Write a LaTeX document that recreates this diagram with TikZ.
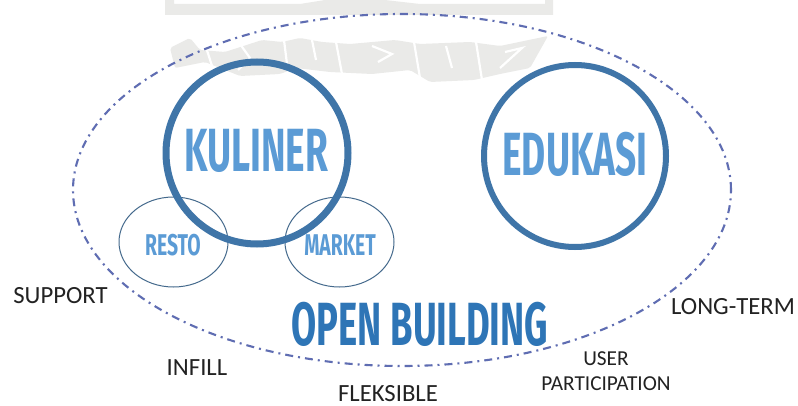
\documentclass[tikz,border=0pt]{standalone}
\usepackage{fontspec}
\setmainfont{Carlito}
\newfontfamily\headfont{Fira Sans}
\usetikzlibrary{shapes.geometric}
\definecolor{ringblue}{HTML}{3F75A8}
\definecolor{headblue}{HTML}{5B9BD5}
\definecolor{titleblue}{HTML}{2E75B6}
\definecolor{dashblue}{HTML}{5F6DB2}
\definecolor{thinblue}{HTML}{44698C}
\definecolor{marks}{HTML}{EAEAE8}
\definecolor{labelink}{HTML}{222222}
\tikzset{
 x=1pt,y=-1pt,
 bigring/.style={draw=ringblue,line width=7pt,circle,minimum size=182pt,inner sep=0pt},
 smallring/.style={draw=thinblue,line width=1pt,ellipse,minimum width=109pt,minimum height=90pt,inner sep=0pt},
 outer/.style={draw=dashblue,line width=2.1pt,dash pattern=on 8pt off 5pt on 2pt off 5pt},
 lab/.style={text=labelink,font=\fontsize{24.7}{28}\selectfont,inner sep=0pt,align=center},
 smalllab/.style={text=labelink,font=\fontsize{21.3}{25}\selectfont,inner sep=0pt,align=center},
 head/.style={font=\headfont\bfseries\fontsize{61}{61}\selectfont,text=headblue,inner sep=0pt,xscale=.607,transform shape},
 sub/.style={font=\headfont\bfseries\fontsize{30}{30}\selectfont,text=headblue,inner sep=0pt,xscale=.645,transform shape},
 ttl/.style={font=\headfont\bfseries\fontsize{61}{61}\selectfont,text=titleblue,inner sep=0pt,xscale=.597,transform shape},
 gap/.style={draw=white,line width=2.2pt},
}
\begin{document}
\begin{tikzpicture}
\useasboundingbox (0,0) rectangle (798,406);
\fill[white] (0,0) rectangle (798,406);
% faint watermark
\fill[marks] (165,0) -- (174,0) -- (174,4) -- (300,4) -- (325,0) -- (385,0) -- (420,4) -- (545,4) -- (545,0) -- (553,0) -- (553,15) -- (165,15) -- cycle;
\fill[marks,rounded corners=2pt] (170,48) -- (190,38) -- (200,50) -- (225,52) -- (262,40) -- (282,42) -- (300,38) -- (322,42) -- (350,44) -- (395,40) -- (420,44) -- (470,42) -- (500,46) -- (548,36) -- (530,68) -- (500,74) -- (474,80) -- (430,82) -- (410,70) -- (372,74) -- (330,72) -- (296,68) -- (280,74) -- (240,76) -- (205,62) -- (175,68) -- cycle;
\draw[gap] (205,44) -- (212,66);
\draw[gap] (240,44) -- (250,58) -- (238,70);
\draw[gap] (284,40) -- (288,72);
\draw[gap] (312,40) -- (316,60);
\draw[gap] (336,42) -- (342,74);
\draw[gap] (372,46) -- (392,54) -- (378,62);
\draw[gap] (414,42) -- (420,78);
\draw[gap] (446,46) -- (452,68);
\draw[gap] (476,42) -- (482,80);
\draw[gap] (505,52) -- (522,48) -- (500,68);
% main outline
\node[outer,ellipse,minimum width=658pt,minimum height=352pt,inner sep=0pt] (site) at (402,190) {};
\node[smallring] (resto) at (173.5,242) {};
\node[smallring] (market) at (339.5,242) {};
\node[bigring] (kuliner) at (257,153) {};
\node[bigring,line width=6pt] (edukasi) at (575,156) {};
\node[head] (kulinertext) at (256,151) {KULINER};
\node[head] (edukasitext) at (575,154) {EDUKASI};
\node[sub] (restotext) at (173,245.5) {RESTO};
\node[sub] (markettext) at (340,245.5) {MARKET};
\node[ttl] (title) at (420,324) {OPEN BUILDING};
\node[lab] (support) at (60.5,296) {SUPPORT};
\node[lab] (infill) at (197,368) {INFILL};
\node[lab] (fleksible) at (388,394) {FLEKSIBLE};
\node[smalllab] (user) at (606,371) {USER\\PARTICIPATION};
\node[lab] (long) at (733,307) {LONG-TERM};
\end{tikzpicture}
\end{document}
